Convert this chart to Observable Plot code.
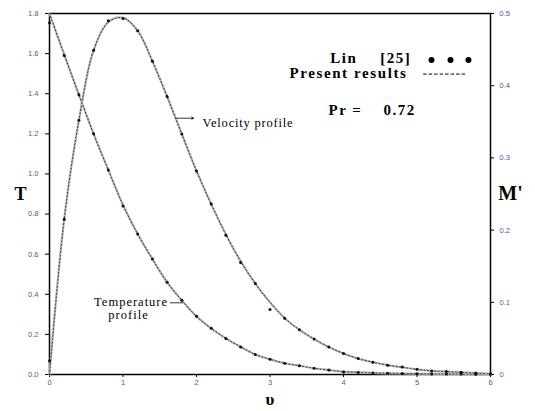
<!DOCTYPE html>
<html><head><meta charset="utf-8">
<script src="https://cdn.jsdelivr.net/npm/d3@7"></script>
<script src="https://cdn.jsdelivr.net/npm/@observablehq/plot@0.6"></script>
<style>body{margin:0;background:#fff}</style>
</head><body><div id="chart"></div>
<script>
// eta (x) positions
const eta = [0,0.2,0.4,0.6,0.8,1.0,1.2,1.4,1.6,1.8,2.0,2.2,2.4,2.6,2.8,3.0,3.2,3.4,3.6,3.8,4.0,4.2,4.4,4.6,4.8,5.0,5.2,5.4,5.6,5.8,6.0];
// Present results: temperature T (left axis)
const presentT = [1.80,1.595,1.395,1.20,1.02,0.845,0.70,0.576,0.46,0.37,0.29,0.23,0.18,0.138,0.10,0.076,0.056,0.044,0.031,0.022,0.014,0.011,0.008,0.006,0.005,0.004,0.003,0.002,0.002,0.001,0.001];
// Present results: velocity M' (right axis)
const presentM = [0,0.215,0.352,0.449,0.488,0.494,0.476,0.434,0.385,0.333,0.282,0.236,0.194,0.157,0.126,0.100,0.078,0.062,0.049,0.038,0.029,0.022,0.017,0.013,0.010,0.007,0.005,0.004,0.003,0.002,0.001];
// Lin [25] data points
const linT = [1.754,1.59,1.395,1.20,1.02,0.84,0.70,0.576,0.46,0.37,0.29,0.23,0.18,0.1375,0.10,0.076,0.056,0.044,0.031,0.022,0.0125,0.010,0.007,0.006,0.005,0.004,0.003,0.002,0.002,0.001,0.001];
const linM = [0.019,0.215,0.352,0.449,0.490,0.493,0.476,0.434,0.385,0.333,0.282,0.236,0.193,0.155,0.126,0.090,0.078,0.062,0.049,0.038,0.029,0.022,0.017,0.0127,0.0104,0.0072,0.005,0.004,0.003,0.002,0.001];
// ticks
const xTicks = [0,1,2,3,4,5,6];
const leftTicks = [0,0.2,0.4,0.6,0.8,1,1.2,1.4,1.6,1.8];
const rightTicks = [0,0.1,0.2,0.3,0.4,0.5];
const ratio = 1.8 / 0.5; // right axis maps 0..0.5 onto 0..1.8

const tRows = eta.map((x,i)=>({x, y: presentT[i]}));
const mRows = eta.map((x,i)=>({x, y: presentM[i]*ratio}));
const linTRows = eta.map((x,i)=>({x, y: linT[i]}));
const linMRows = eta.map((x,i)=>({x, y: linM[i]*ratio}));

const tickColor = "#4a5a9e";
const serif = "Liberation Serif, Times New Roman, serif";

const lineStyle = (rows) => [
  Plot.line(rows, {x:"x", y:"y", stroke:"#b4b4b4", strokeWidth:2.2, curve:"catmull-rom"}),
  Plot.line(rows, {x:"x", y:"y", stroke:"#333", strokeWidth:1, strokeDasharray:"1,2.5", curve:"catmull-rom"})
];

const chart = Plot.plot({
  width:535, height:411,
  marginLeft:49, marginRight:45, marginTop:13, marginBottom:37,
  x:{domain:[0,6]},
  y:{domain:[0,1.8]},
  style:{fontFamily:"Liberation Sans, Arial, sans-serif", fontSize:"7.5px", background:"white", color:"black"},
  marks:[
    Plot.frame({stroke:"black", strokeWidth:1.5}),
    Plot.axisX(xTicks, {tickSize:3, tickPadding:2, fill:tickColor, stroke:"black", label:null, fontSize:7.5}),
    Plot.axisY(leftTicks, {anchor:"left", tickSize:4, tickPadding:7, fill:tickColor, stroke:"black", label:null, fontSize:7.5}),
    Plot.axisY(rightTicks.map(v=>v*ratio), {anchor:"right", tickSize:3, tickPadding:6, fill:tickColor, stroke:"black", label:null, fontSize:7.5, tickFormat:d=>String(+(d/ratio).toFixed(1))}),
    ...lineStyle(tRows),
    ...lineStyle(mRows),
    Plot.dot(linTRows, {x:"x", y:"y", r:1.5, fill:"#111"}),
    Plot.dot(linMRows, {x:"x", y:"y", r:1.5, fill:"#111"}),
    // axis titles
    Plot.text(["T"], {frameAnchor:"left", dx:-35, fontSize:18, fontWeight:"bold", fontFamily:serif}),
    Plot.text(["M'"], {frameAnchor:"right", dx:20, textAnchor:"middle", fontSize:20, fontWeight:"bold", fontFamily:serif}),
    Plot.text(["υ"], {frameAnchor:"bottom", dy:30, fontSize:17, fontWeight:"bold", fontFamily:serif}),
    // legend
    Plot.text(["Lin"], {x:3.82, y:1.578, textAnchor:"start", fontSize:15, fontWeight:"bold", fontFamily:serif}),
    Plot.text(["[25]"], {x:4.50, y:1.578, textAnchor:"start", fontSize:15, fontWeight:"bold", fontFamily:serif}),
    Plot.dot([5.197,5.456,5.70], {x:d=>d, y:1.568, r:3, fill:"black"}),
    Plot.text(["Present results"], {x:3.265, y:1.503, textAnchor:"start", fontSize:15, fontWeight:"bold", fontFamily:serif}),
    Plot.ruleY([1.498], {x1:5.09, x2:5.66, stroke:"black", strokeWidth:1, strokeDasharray:"3.5,2"}),
    Plot.text(["Pr ="], {x:3.796, y:1.318, textAnchor:"start", fontSize:15, fontWeight:"bold", fontFamily:serif}),
    Plot.text(["0.72"], {x:4.544, y:1.318, textAnchor:"start", fontSize:15, fontWeight:"bold", fontFamily:serif}),
    // annotations
    Plot.arrow([0], {x1:1.728, y1:1.278, x2:1.96, y2:1.278, stroke:"black", strokeWidth:0.8, headLength:4}),
    Plot.text(["Velocity profile"], {x:2.082, y:1.2525, textAnchor:"start", fontSize:12.5, fontFamily:serif}),
    Plot.ruleY([0.3575], {x1:1.646, x2:1.823, stroke:"black", strokeWidth:0.8}),
    Plot.text(["Temperature"], {x:1.11, y:0.362, textAnchor:"middle", fontSize:12.5, fontFamily:serif}),
    Plot.text(["profile"], {x:1.075, y:0.298, textAnchor:"middle", fontSize:12.5, fontFamily:serif})
  ]
});
// widen the letter spacing of annotation texts to match the reference
const spacing = {"Lin":"1.5px","[25]":"1.5px","Present results":"1.6px","Pr =":"1.5px","0.72":"1.5px","Velocity profile":"0.8px","Temperature":"1px","profile":"1px"};
d3.select(chart).selectAll("text").each(function(){
  const s = spacing[this.textContent];
  if (s) this.style.letterSpacing = s;
});
document.getElementById("chart").appendChild(chart);
</script>
</body></html>
